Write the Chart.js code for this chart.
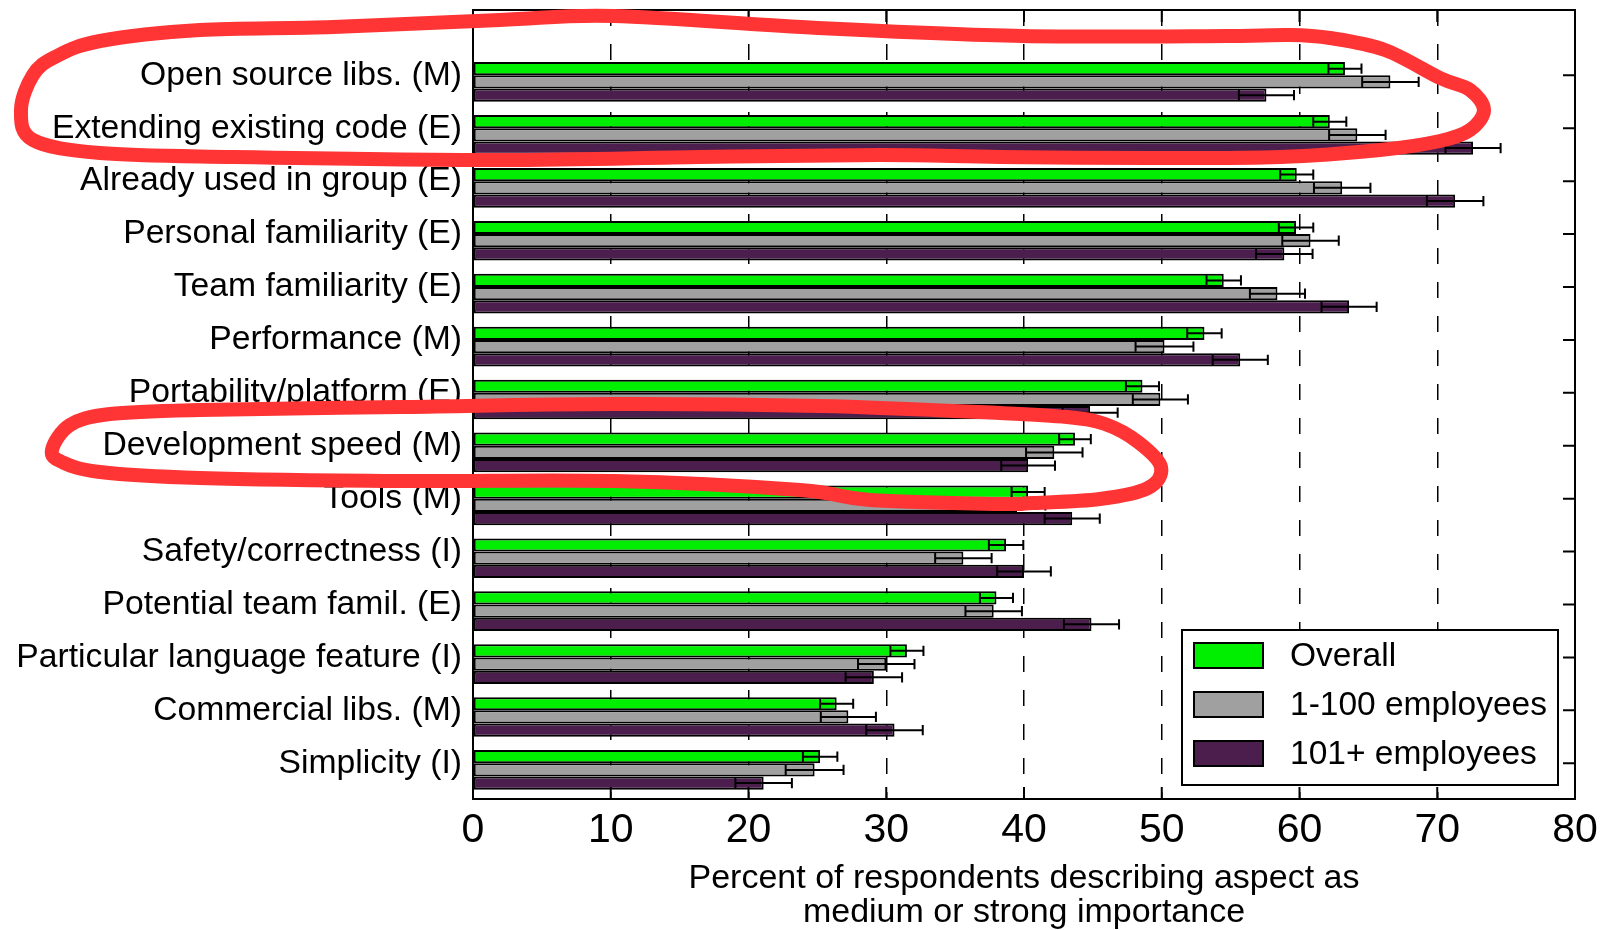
<!DOCTYPE html>
<html>
<head>
<meta charset="utf-8">
<script src="https://cdn.jsdelivr.net/npm/chart.js@4.4.1/dist/chart.umd.min.js"></script>
<style>
  html, body { margin: 0; padding: 0; background: #fff; }
</style>
</head>
<body>
<canvas id="chart" width="1604" height="930"></canvas>
<script>
const categories = [
    'Open source libs. (M)',
    'Extending existing code (E)',
    'Already used in group (E)',
    'Personal familiarity (E)',
    'Team familiarity (E)',
    'Performance (M)',
    'Portability/platform (E)',
    'Development speed (M)',
    'Tools (M)',
    'Safety/correctness (I)',
    'Potential team famil. (E)',
    'Particular language feature (I)',
    'Commercial libs. (M)',
    'Simplicity (I)'
];

// percent values
const overall = [63.3, 62.2, 59.8, 59.75, 54.5, 53.1, 48.6, 43.7, 40.3, 38.7, 38.0, 31.5, 26.4, 25.2];
const small = [66.6, 64.2, 63.1, 60.8, 58.4, 50.2, 49.9, 42.2, 39.5, 35.6, 37.8, 30.0, 27.25, 24.8];
const large = [57.6, 72.6, 71.3, 58.9, 63.6, 55.7, 44.8, 40.3, 43.5, 40.0, 44.9, 29.1, 30.6, 21.1];

// error bar half-widths
const overallErr = [1.2, 1.2, 1.2, 1.25, 1.25, 1.25, 1.2, 1.15, 1.2, 1.25, 1.2, 1.2, 1.2, 1.25];
const smallErr = [2.05, 2.05, 2.05, 2.05, 2.0, 2.1, 2.0, 2.05, 2.05, 2.05, 2.05, 2.05, 2.0, 2.1];
const largeErr = [2.0, 2.0, 2.05, 2.05, 2.0, 2.0, 2.0, 1.95, 2.0, 1.95, 2.0, 2.05, 2.05, 2.05];

const seriesLabels = ['Overall', '1-100 employees', '101+ employees'];
const xTicks = [0, 10, 20, 30, 40, 50, 60, 70, 80];
const xTitle = ['Percent of respondents describing aspect as', 'medium or strong importance'];

Chart.defaults.font.family = "'Liberation Sans', Arial, sans-serif";
Chart.defaults.color = '#000';

const series = [
    { label: seriesLabels[0], values: overall, errors: overallErr, color: '#00ee00' },
    { label: seriesLabels[1], values: small, errors: smallErr, color: '#a0a0a0' },
    { label: seriesLabels[2], values: large, errors: largeErr, color: '#4b1e4d' }
];

// error bars, drawn from the x scale
const errorBars = {
    id: 'errorBars',
    afterDatasetsDraw(chart) {
        const ctx = chart.ctx;
        const xs = chart.scales.x;
        ctx.save();
        ctx.strokeStyle = '#000';
        ctx.lineWidth = 2;
        chart.data.datasets.forEach((ds, di) => {
            const meta = chart.getDatasetMeta(di);
            meta.data.forEach((bar, i) => {
                const v = ds.data[i].x;
                const e = ds.errors[i];
                const x0 = xs.getPixelForValue(v - e);
                const x1 = xs.getPixelForValue(v + e);
                const cap = bar.height / 2 - 1.5;
                ctx.beginPath();
                ctx.moveTo(x0, bar.y); ctx.lineTo(x1, bar.y);
                ctx.moveTo(x0, bar.y - cap); ctx.lineTo(x0, bar.y + cap);
                ctx.moveTo(x1, bar.y - cap); ctx.lineTo(x1, bar.y + cap);
                ctx.stroke();
            });
        });
        ctx.restore();
    }
};

// plot frame with inward ticks
const frame = {
    id: 'frame',
    afterDraw(chart) {
        const ctx = chart.ctx;
        const a = chart.chartArea;
        const xs = chart.scales.x, ys = chart.scales.y;
        ctx.save();
        ctx.strokeStyle = '#000';
        ctx.lineWidth = 2;
        ctx.strokeRect(a.left, a.top, a.right - a.left, a.bottom - a.top);
        ctx.beginPath();
        xTicks.slice(1, -1).forEach(t => {
            const px = xs.getPixelForValue(t);
            ctx.moveTo(px, a.bottom); ctx.lineTo(px, a.bottom - 12);
            ctx.moveTo(px, a.top); ctx.lineTo(px, a.top + 12);
        });
        ys.ticks.forEach(t => {
            const py = ys.getPixelForValue(t.value);
            ctx.moveTo(a.right, py); ctx.lineTo(a.right - 12, py);
        });
        ctx.stroke();
        ctx.restore();
    }
};

const legendBox = {
    id: 'legendBox',
    afterDraw(chart) {
        const ctx = chart.ctx;
        ctx.save();
        ctx.fillStyle = '#fff';
        ctx.fillRect(1182, 630, 376, 155);
        ctx.strokeStyle = '#000';
        ctx.lineWidth = 2;
        ctx.strokeRect(1182, 630, 376, 155);
        ctx.font = "33.5px 'Liberation Sans', Arial, sans-serif";
        ctx.textBaseline = 'middle';
        chart.data.datasets.forEach((ds, i) => {
            const cy = 655.5 + i * 49;
            ctx.fillStyle = ds.backgroundColor;
            ctx.fillRect(1194, cy - 12.5, 69, 25);
            ctx.strokeRect(1194, cy - 12.5, 69, 25);
            ctx.fillStyle = '#000';
            ctx.fillText(ds.label, 1290, cy + 1);
        });
        ctx.restore();
    }
};

// red hand-drawn marks
const marks = {
    id: 'marks',
    afterDraw(chart) {
        const loops = [
            [[21, 110], [33, 75], [55, 57], [100, 41], [200, 30], [333, 27], [500, 20], [614, 16], [818, 28],
             [1023, 36], [1228, 36], [1290, 35], [1330, 38], [1385, 50], [1440, 78], [1470, 90], [1484, 110],
             [1470, 130], [1440, 141], [1380, 150], [1280, 157], [1150, 158], [1000, 157], [880, 155],
             [700, 157], [500, 160], [233, 157], [100, 153], [33, 140]],
            [[52, 450], [70, 425], [110, 414], [200, 410], [400, 407], [614, 404], [820, 406], [1000, 413],
             [1067, 417], [1105, 424], [1138, 442], [1161, 467], [1148, 488], [1100, 499], [1033, 503],
             [1000, 504], [870, 500], [800, 490], [614, 481], [400, 481], [200, 478], [100, 472], [62, 462]]
        ];
        const ctx = chart.ctx;
        ctx.save();
        ctx.strokeStyle = '#ff3434';
        ctx.lineWidth = 14;
        ctx.lineJoin = 'round';
        ctx.lineCap = 'round';
        loops.forEach(pts => {
            const n = pts.length;
            ctx.beginPath();
            ctx.moveTo(pts[0][0], pts[0][1]);
            for (let i = 0; i < n; i++) {
                const p0 = pts[(i - 1 + n) % n], p1 = pts[i], p2 = pts[(i + 1) % n], p3 = pts[(i + 2) % n];
                ctx.bezierCurveTo(
                    p1[0] + (p2[0] - p0[0]) / 6, p1[1] + (p2[1] - p0[1]) / 6,
                    p2[0] - (p3[0] - p1[0]) / 6, p2[1] - (p3[1] - p1[1]) / 6,
                    p2[0], p2[1]);
            }
            ctx.closePath();
            ctx.stroke();
        });
        ctx.restore();
    }
};

new Chart(document.getElementById('chart'), {
    type: 'bar',
    data: {
        datasets: series.map(s => ({
            label: s.label,
            data: s.values.map((v, i) => ({ x: v, y: i })),
            errors: s.errors,
            backgroundColor: s.color,
            borderColor: '#000',
            borderWidth: 2,
            borderSkipped: false,
            categoryPercentage: 0.75,
            barPercentage: 1
        }))
    },
    options: {
        indexAxis: 'y',
        responsive: false,
        animation: false,
        devicePixelRatio: 1,
        layout: { padding: { top: 10, right: 29, bottom: 0, left: 0 } },
        plugins: { legend: { display: false }, tooltip: { enabled: false } },
        scales: {
            x: {
                type: 'linear',
                position: 'bottom',
                min: 0,
                max: 80,
                z: 1,
                afterFit: s => { s.height = 131; s.paddingLeft = 0; s.paddingRight = 0; },
                afterBuildTicks: s => { s.ticks = xTicks.map(v => ({ value: v })); },
                ticks: { padding: 7, color: '#000', font: { size: 41 } },
                grid: {
                    drawTicks: false,
                    lineWidth: 1.5,
                    color: c => (c.tick && (c.tick.value === 0 || c.tick.value === 80)) ? 'rgba(0,0,0,0)' : '#000'
                },
                border: { display: false, dash: [16, 18] },
                title: {
                    display: true,
                    text: xTitle,
                    color: '#000',
                    font: { size: 34, lineHeight: 1.0 },
                    padding: { top: 0, bottom: 0 }
                }
            },
            y: {
                type: 'linear',
                reverse: true,
                min: -1.36,
                max: 13.55,
                offset: false,
                afterFit: s => { s.width = 473; s.paddingTop = 0; s.paddingBottom = 0; },
                afterBuildTicks: s => { s.ticks = categories.map((c, i) => ({ value: i - 0.125 })); },
                ticks: {
                    autoSkip: false,
                    padding: 11,
                    color: '#000',
                    font: { size: 33.7 },
                    callback: (v, i) => categories[i]
                },
                grid: { display: false, drawTicks: false },
                border: { display: false }
            }
        }
    },
    plugins: [errorBars, frame, legendBox, marks]
});
</script>
</body>
</html>
